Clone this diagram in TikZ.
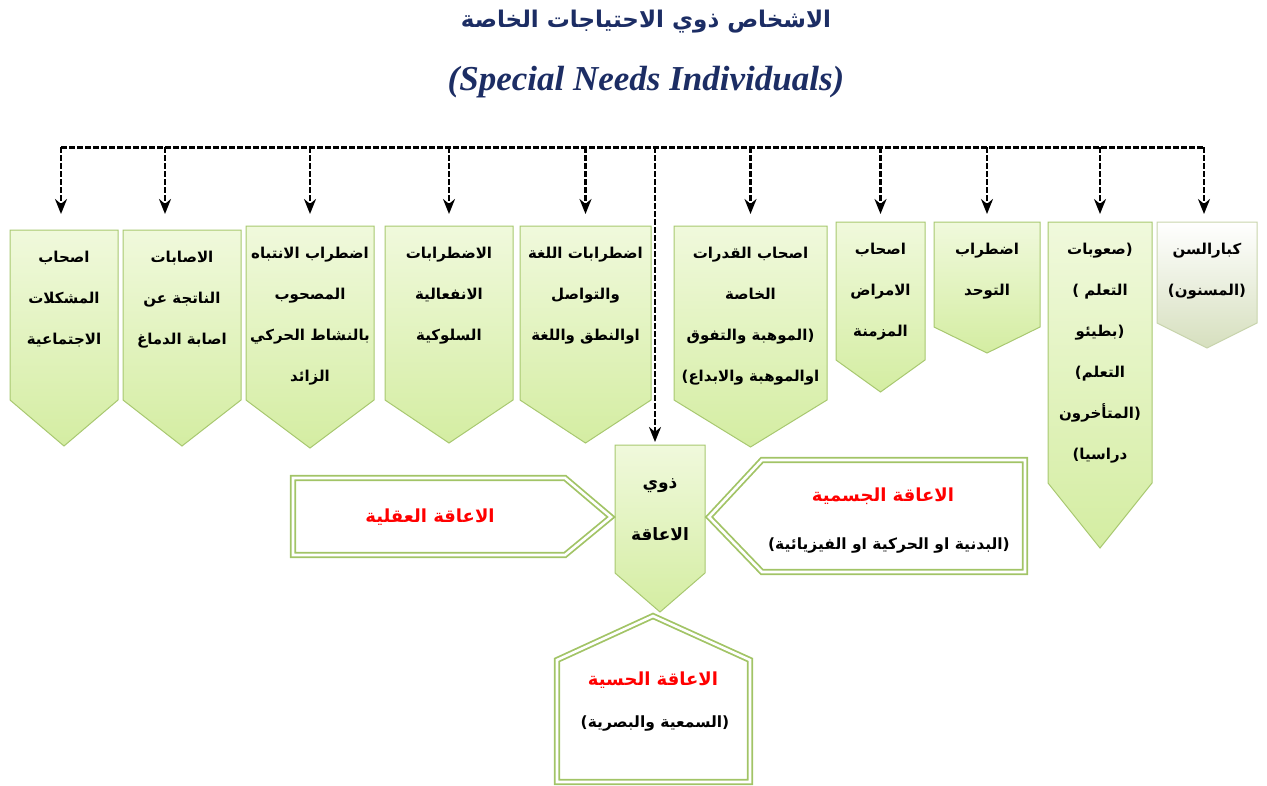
\documentclass[tikz,border=0pt]{standalone}
\usepackage{fontspec}
\setmainfont{DejaVu Sans}
\newfontfamily\arabicfont[Script=Arabic]{DejaVu Sans}
\newfontfamily\titlefont{Liberation Serif}
\TeXXeTstate=1
\usepackage{xcolor}
\definecolor{navy}{RGB}{28,45,100}
\definecolor{boxtop}{RGB}{240,249,220}
\definecolor{boxbottom}{RGB}{212,237,162}
\definecolor{boxline}{RGB}{168,200,112}
\definecolor{oldbottom}{RGB}{214,223,190}
\definecolor{oldline}{RGB}{200,212,172}
\definecolor{frameline}{RGB}{162,196,102}
\usepackage{tikz}
\usetikzlibrary{calc}
\usetikzlibrary{arrows.meta}
\newcommand{\ar}[1]{\beginR #1\endR}
\tikzset{
    body/.style={inner sep=0pt, outer sep=0pt},
    shield/.style={draw=boxline, line width=1pt, top color=boxtop, bottom color=boxbottom},
    oldshield/.style={draw=oldline, line width=1pt, top color=white, bottom color=oldbottom},
    frame/.style={draw=frameline, line width=1.8pt, double=white, double distance=2.6pt},
    boxtext/.style={align=center, anchor=north, inner sep=0pt, font=\arabicfont\bfseries\fontsize{15}{41}\selectfont},
    redtext/.style={text=red, font=\arabicfont\bfseries\fontsize{18}{22}\selectfont},
    plaintext/.style={font=\arabicfont\bfseries\fontsize{15.5}{19}\selectfont},
    bus/.style={line width=3pt, dash pattern=on 6pt off 2pt},
    drop/.style={line width=2.3pt, dash pattern=on 6pt off 2pt, -{Stealth[length=15pt, width=12pt]}}
}
% one green pentagon: [style]{name}{corner}{width}{height}{tip}{text}
\newcommand{\shieldbox}[7][shield]{%
    \node[body, minimum width=#4, minimum height=#5, anchor=north west] (#2) at #3 {};
    \path[#1] (#2.north west) -- (#2.north east) -- (#2.south east)
        -- ($(#2.south)+(0,#6)$) -- (#2.south west) -- cycle;
    \node[boxtext] (#2-text) at ($(#2.north)+(0,21)$) {#7};
}

\begin{document}
\begin{tikzpicture}[x=1pt, y=-1pt]
    \useasboundingbox (0,0) rectangle (1267,785);

    \node[text=navy, font=\arabicfont\bfseries\fontsize{23}{27}\selectfont] (title) at (646,22) {\ar{الاشخاص ذوي الاحتياجات الخاصة}};
    \node[text=navy, font=\titlefont\bfseries\itshape\fontsize{35}{40}\selectfont] (subtitle) at (646,82) {(Special Needs Individuals)};

    % top row
    \shieldbox{social}{(10,230)}{108}{170}{46}{\ar{اصحاب}\\\ar{المشكلات}\\\ar{الاجتماعية}}
    \shieldbox{brain}{(123,230)}{118}{170}{46}{\ar{الاصابات}\\\ar{الناتجة عن}\\\ar{اصابة الدماغ}}
    \shieldbox{adhd}{(246,226)}{128}{174}{48}{\ar{اضطراب الانتباه}\\\ar{المصحوب}\\\ar{بالنشاط الحركي}\\\ar{الزائد}}
    \shieldbox{emotion}{(385,226)}{128}{174}{43}{\ar{الاضطرابات}\\\ar{الانفعالية}\\\ar{السلوكية}}
    \shieldbox{language}{(520,226)}{131}{174}{43}{\ar{اضطرابات اللغة}\\\ar{والتواصل}\\\ar{اوالنطق واللغة}}
    \shieldbox{gifted}{(674,226)}{153}{174}{47}{\ar{اصحاب القدرات}\\\ar{الخاصة}\\\ar{(الموهبة والتفوق}\\\ar{اوالموهبة والابداع)}}
    \shieldbox{chronic}{(836,222)}{89}{138}{32}{\ar{اصحاب}\\\ar{الامراض}\\\ar{المزمنة}}
    \shieldbox{autism}{(934,222)}{106}{105}{26}{\ar{اضطراب}\\\ar{التوحد}}
    \shieldbox{learning}{(1048,222)}{104}{261}{65}{\ar{(صعوبات}\\\ar{التعلم )}\\\ar{(بطيئو}\\\ar{التعلم)}\\\ar{(المتأخرون}\\\ar{دراسيا)}}
    \shieldbox[oldshield]{elderly}{(1157,222)}{100}{101}{25}{\ar{كبارالسن}\\\ar{(المسنون)}}

    % centre and the three kinds of disability
    \shieldbox{disabled}{(615,445)}{90}{128}{39}{}
    \node[boxtext, font=\arabicfont\bfseries\fontsize{17}{52}\selectfont] (disabled-text) at ($(disabled.north)+(0,33)$) {\ar{ذوي}\\\ar{الاعاقة}};

    \draw[frame] (293,478) -- (565,478) -- (611,517) -- (565,555) -- (293,555) -- cycle;
    \node[redtext] (mental) at (430,517) {\ar{الاعاقة العقلية}};

    \draw[frame] (709,517) -- (762,460) -- (1025,460) -- (1025,572) -- (762,572) -- cycle;
    \node[redtext] (physical) at (883,496) {\ar{الاعاقة الجسمية}};
    \node[plaintext] (physical-kinds) at (889,545) {\ar{(البدنية او الحركية او الفيزيائية)}};

    \draw[frame] (557,660) -- (653,616) -- (750,660) -- (750,782) -- (557,782) -- cycle;
    \node[redtext] (sensory) at (653,680) {\ar{الاعاقة الحسية}};
    \node[plaintext] (sensory-kinds) at (655,723) {\ar{(السمعية والبصرية)}};

    % dashed bus and its arrows
    \coordinate (bus-l) at (61,147);
    \coordinate (bus-r) at (1204,147);
    \coordinate (stop) at (0,214);
    \draw[bus] (bus-l) -- (bus-r);
    \draw[drop] (bus-l) -- (bus-l |- stop);
    \draw[drop] ([xshift=-17pt]brain.north |- bus-l) -- ([xshift=-17pt]brain.north |- stop);
    \draw[drop] (adhd.north |- bus-l) -- (adhd.north |- stop);
    \draw[drop] (emotion.north |- bus-l) -- (emotion.north |- stop);
    \draw[drop] (language.north |- bus-l) -- (language.north |- stop);
    \draw[drop] (gifted.north |- bus-l) -- (gifted.north |- stop);
    \draw[drop] (chronic.north |- bus-l) -- (chronic.north |- stop);
    \draw[drop] (autism.north |- bus-l) -- (autism.north |- stop);
    \draw[drop] (learning.north |- bus-l) -- (learning.north |- stop);
    \draw[drop] (bus-r) -- (bus-r |- stop);
    \draw[drop, shorten >=3pt] ([xshift=-5pt]disabled.north |- bus-l) -- ([xshift=-5pt]disabled.north);
\end{tikzpicture}
\end{document}
